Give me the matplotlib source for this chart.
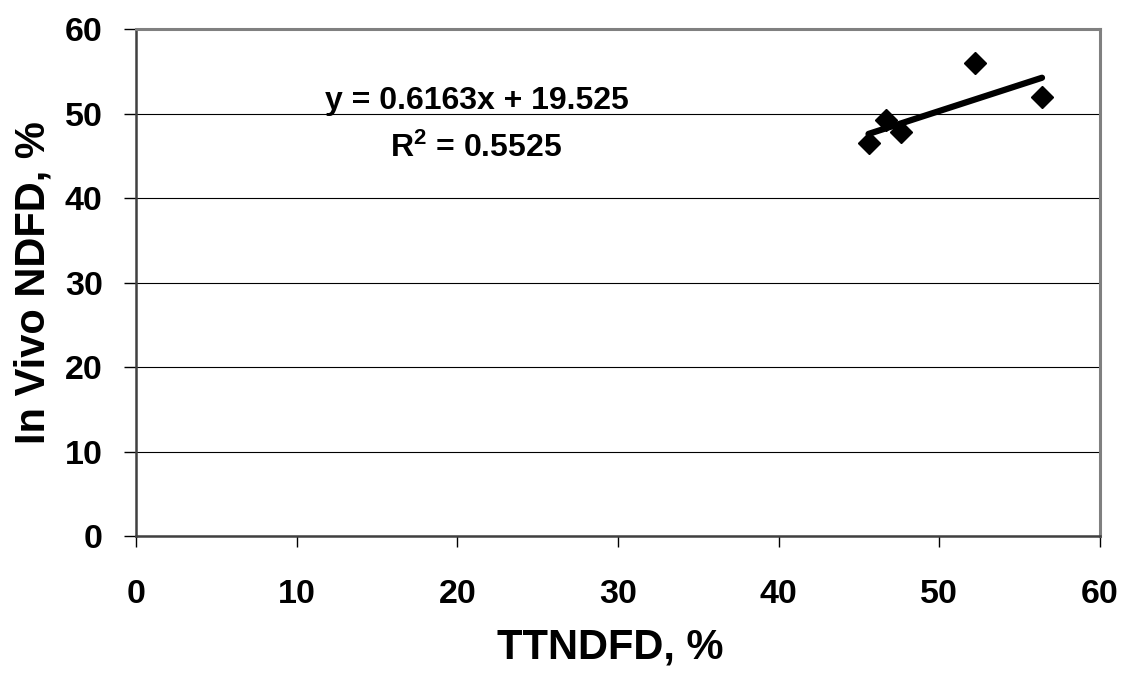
import numpy as np
import matplotlib
matplotlib.use('Agg')
import matplotlib.pyplot as plt

plt.rcParams['font.family'] = ['Liberation Sans', 'DejaVu Sans']
plt.rcParams['font.weight'] = 'bold'
plt.rcParams['mathtext.default'] = 'regular'

# data
ttndfd = [45.6, 46.7, 47.6, 52.2, 56.4]
in_vivo = [46.6, 49.3, 47.8, 56.05, 52.0]
slope = 0.6163
intercept = 19.525
r2 = 0.5525
ticks = [0, 10, 20, 30, 40, 50, 60]

fig = plt.figure(figsize=(11.24, 6.75), dpi=100)
ax = fig.add_axes([0.121, 0.206, 0.8575, 0.7503])

ax.set_xlim(0, 60)
ax.set_ylim(0, 60)
ax.set_xticks(ticks)
ax.set_yticks(ticks)
ax.yaxis.grid(True, color='black', linewidth=0.8)
ax.set_axisbelow(True)

ax.plot(ttndfd, in_vivo, linestyle='none', marker='D', markersize=11,
        color='black', zorder=3)

xs = np.array([min(ttndfd), max(ttndfd)])
ax.plot(xs, slope * xs + intercept, color='black', linewidth=4.5,
        solid_capstyle='round', zorder=3)

ax.text(21.2, 50.6, 'y = %.4fx + %.3f' % (slope, intercept),
        ha='center', va='baseline', fontsize=23, fontweight='bold')
ax.text(21.2, 44.9, 'R$^2$ = %.4f' % r2,
        ha='center', va='baseline', fontsize=23, fontweight='bold')

for s in ['top', 'right']:
    ax.spines[s].set_color('#808080')
    ax.spines[s].set_linewidth(2.2)
for s in ['left', 'bottom']:
    ax.spines[s].set_color('#404040')
    ax.spines[s].set_linewidth(1.8)

ax.tick_params(axis='x', direction='out', length=8, width=1, pad=23,
               labelsize=24.5)
ax.tick_params(axis='y', direction='out', length=9, width=1, pad=15,
               labelsize=24.5)
for lab in ax.get_xticklabels() + ax.get_yticklabels():
    lab.set_fontweight('bold')

ax.set_xlabel('TTNDFD, %', fontsize=30, fontweight='bold')
ax.set_ylabel('In Vivo NDFD, %', fontsize=30, fontweight='bold')
ax.xaxis.set_label_coords(0.492, -0.18)
ax.yaxis.set_label_coords(-0.0856, 0.5)

fig.savefig('out.png', dpi=100)
